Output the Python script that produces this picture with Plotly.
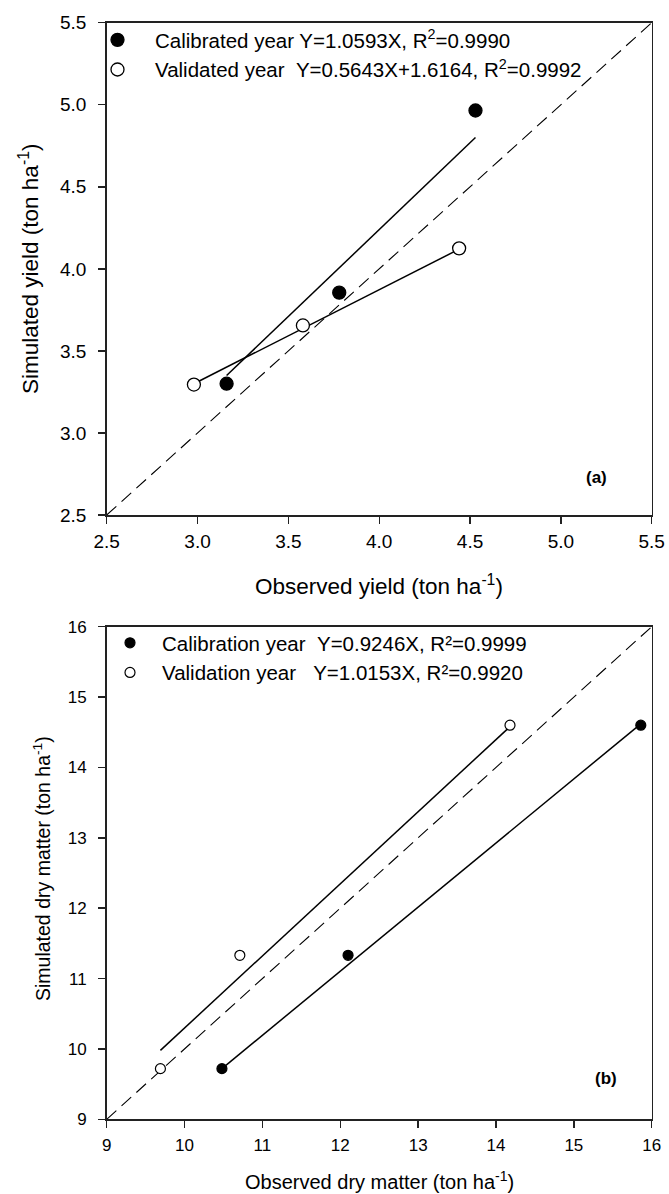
import plotly.graph_objects as go

# ---------------- Panel (a): grain yield ----------------
cal_obs_a = [3.16, 3.78, 4.53]
cal_sim_a = [3.30, 3.855, 4.965]
val_obs_a = [2.98, 3.58, 4.44]
val_sim_a = [3.295, 3.655, 4.125]
cal_fit_x_a = [3.16, 4.53]
cal_fit_y_a = [3.35, 4.80]
val_fit_x_a = [2.98, 4.44]
val_fit_y_a = [3.30, 4.12]
diag_a = [2.5, 5.5]
ticks_a = [2.5, 3.0, 3.5, 4.0, 4.5, 5.0, 5.5]
cal_label_a = "Calibrated year Y=1.0593X, R<sup>2</sup>=0.9990"
val_label_a = "Validated year\u00a0\u00a0Y=0.5643X+1.6164, R<sup>2</sup>=0.9992"

# ---------------- Panel (b): dry matter ----------------
cal_obs_b = [10.48, 12.10, 15.86]
cal_sim_b = [9.72, 11.33, 14.60]
val_obs_b = [9.69, 10.71, 14.18]
val_sim_b = [9.72, 11.33, 14.60]
cal_fit_x_b = [10.48, 15.86]
cal_fit_y_b = [9.72, 14.62]
val_fit_x_b = [9.69, 14.18]
val_fit_y_b = [9.98, 14.58]
diag_b = [9, 16]
ticks_b = [9, 10, 11, 12, 13, 14, 15, 16]
cal_label_b = "Calibration year\u00a0\u00a0Y=0.9246X, R\u00b2=0.9999"
val_label_b = "Validation year\u00a0\u00a0\u00a0Y=1.0153X, R\u00b2=0.9920"

W, H = 669, 1194
FONT = "Arial, Liberation Sans, sans-serif"


def px_x(p):
    return p / W


def px_y(p):
    return 1 - p / H


fig = go.Figure()

line_style = dict(color="black", width=1.5)
diag_style = dict(color="black", width=1.1, dash="13px,7px")

# panel (a)
fig.add_trace(go.Scatter(x=diag_a, y=diag_a, mode="lines", line=diag_style,
                         showlegend=False, xaxis="x", yaxis="y"))
fig.add_trace(go.Scatter(x=cal_fit_x_a, y=cal_fit_y_a, mode="lines", line=line_style,
                         showlegend=False, xaxis="x", yaxis="y"))
fig.add_trace(go.Scatter(x=val_fit_x_a, y=val_fit_y_a, mode="lines", line=line_style,
                         showlegend=False, xaxis="x", yaxis="y"))
fig.add_trace(go.Scatter(x=cal_obs_a, y=cal_sim_a, mode="markers", name=cal_label_a,
                         marker=dict(size=13, color="black", line=dict(color="black", width=1.3)),
                         xaxis="x", yaxis="y", legend="legend"))
fig.add_trace(go.Scatter(x=val_obs_a, y=val_sim_a, mode="markers", name=val_label_a,
                         marker=dict(size=13, color="white", line=dict(color="black", width=1.3)),
                         xaxis="x", yaxis="y", legend="legend"))

# panel (b)
fig.add_trace(go.Scatter(x=diag_b, y=diag_b, mode="lines", line=diag_style,
                         showlegend=False, xaxis="x2", yaxis="y2"))
fig.add_trace(go.Scatter(x=cal_fit_x_b, y=cal_fit_y_b, mode="lines", line=line_style,
                         showlegend=False, xaxis="x2", yaxis="y2"))
fig.add_trace(go.Scatter(x=val_fit_x_b, y=val_fit_y_b, mode="lines", line=line_style,
                         showlegend=False, xaxis="x2", yaxis="y2"))
fig.add_trace(go.Scatter(x=cal_obs_b, y=cal_sim_b, mode="markers", name=cal_label_b,
                         marker=dict(size=10, color="black", line=dict(color="black", width=1.2)),
                         xaxis="x2", yaxis="y2", legend="legend2"))
fig.add_trace(go.Scatter(x=val_obs_b, y=val_sim_b, mode="markers", name=val_label_b,
                         marker=dict(size=10, color="white", line=dict(color="black", width=1.2)),
                         xaxis="x2", yaxis="y2", legend="legend2"))

axis_common = dict(showline=True, linecolor="#222", linewidth=1.6, mirror=True,
                   ticks="outside", ticklen=7, tickwidth=1.4, tickcolor="#222",
                   showgrid=False, zeroline=False, fixedrange=True, automargin=False)

xdom = [px_x(106.7), px_x(651.7)]

fig.update_layout(
    width=W, height=H,
    autosize=False,
    margin=dict(l=0, r=0, t=0, b=0, pad=0),
    paper_bgcolor="white", plot_bgcolor="white",
    font=dict(family=FONT, color="black"),
    xaxis=dict(axis_common, domain=xdom, anchor="y", range=[2.5, 5.5],
               tickvals=ticks_a, tickformat=".1f", tickfont=dict(size=19),
               ticklabelstandoff=2),
    yaxis=dict(axis_common, domain=[px_y(515), px_y(22.7)], anchor="x", range=[2.5, 5.5],
               tickvals=ticks_a, tickformat=".1f", tickfont=dict(size=19),
               ticklabelstandoff=8),
    xaxis2=dict(axis_common, domain=xdom, anchor="y2", range=[9, 16],
                tickvals=ticks_b, tickfont=dict(size=17), ticklabelstandoff=3),
    yaxis2=dict(axis_common, domain=[px_y(1119.3), px_y(626.7)], anchor="x2", range=[9, 16],
                tickvals=ticks_b, tickfont=dict(size=17), ticklabelstandoff=8),
    legend=dict(x=px_x(80), y=px_y(20), xanchor="left", yanchor="top",
                bgcolor="rgba(0,0,0,0)", borderwidth=0, itemwidth=65,
                font=dict(size=20.5, family=FONT), tracegroupgap=0),
    legend2=dict(x=px_x(98), y=px_y(623), xanchor="left", yanchor="top",
                 bgcolor="rgba(0,0,0,0)", borderwidth=0, itemwidth=54,
                 font=dict(size=20.5, family=FONT), tracegroupgap=0),
    annotations=[
        dict(text="Observed yield (ton ha<sup>-1</sup>)", xref="paper", yref="paper",
             x=px_x(379.2), y=px_y(585), xanchor="center", yanchor="middle",
             showarrow=False, font=dict(size=22.5)),
        dict(text="Simulated yield (ton ha<sup>-1</sup>)", xref="paper", yref="paper",
             x=px_x(29), y=px_y(269), xanchor="center", yanchor="middle", textangle=-90,
             showarrow=False, font=dict(size=22.5)),
        dict(text="<b>(a)</b>", xref="paper", yref="paper",
             x=px_x(596), y=px_y(478), xanchor="center", yanchor="middle",
             showarrow=False, font=dict(size=17)),
        dict(text="Observed dry matter (ton ha<sup>-1</sup>)", xref="paper", yref="paper",
             x=px_x(379.2), y=px_y(1180), xanchor="center", yanchor="middle",
             showarrow=False, font=dict(size=20)),
        dict(text="Simulated dry matter (ton ha<sup>-1</sup>)", xref="paper", yref="paper",
             x=px_x(42), y=px_y(869), xanchor="center", yanchor="middle", textangle=-90,
             showarrow=False, font=dict(size=19.5)),
        dict(text="<b>(b)</b>", xref="paper", yref="paper",
             x=px_x(605.7), y=px_y(1078.3), xanchor="center", yanchor="middle",
             showarrow=False, font=dict(size=17)),
    ],
)

fig.write_html("out.html",
               config={"displayModeBar": False, "staticPlot": True},
               post_script="document.body.style.margin='0px';document.body.style.overflow='hidden';")
